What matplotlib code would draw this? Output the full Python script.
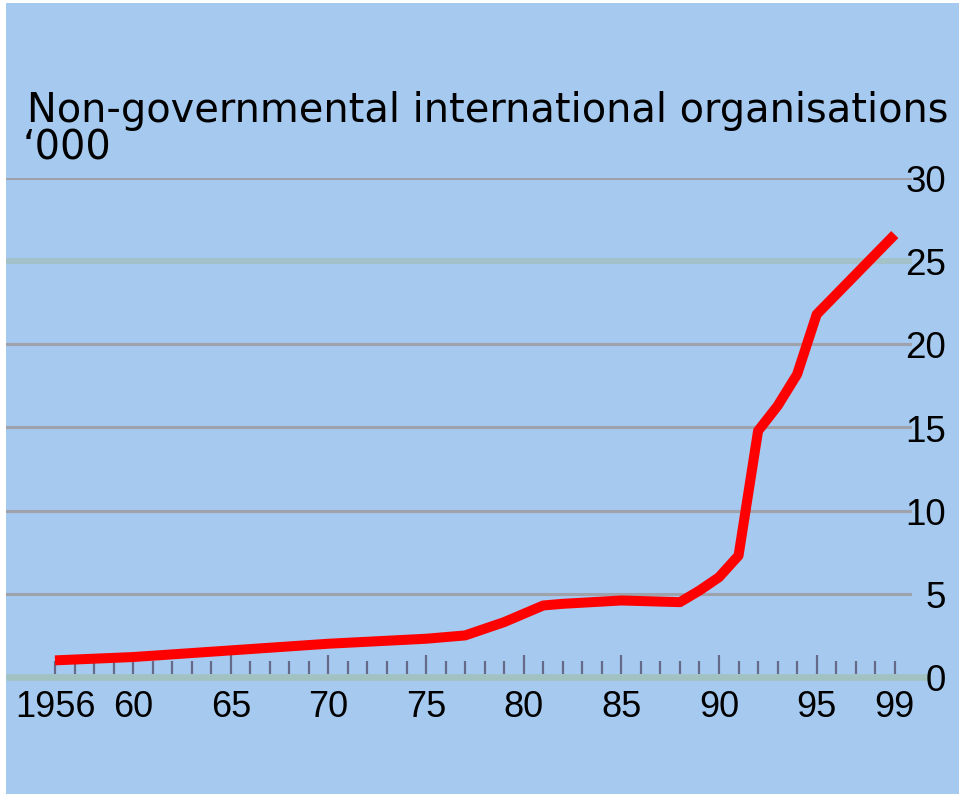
import matplotlib
matplotlib.use("Agg")
import matplotlib.pyplot as plt
from matplotlib.patches import Rectangle
from matplotlib.transforms import blended_transform_factory, ScaledTranslation

years = [1956, 1960, 1965, 1970, 1975, 1977, 1978, 1979, 1980, 1981, 1982, 1985,
         1988, 1989, 1990, 1991, 1992, 1993, 1994, 1995, 1996, 1997, 1998, 1999]
values = [1.0, 1.2, 1.6, 2.0, 2.3, 2.5, 2.9, 3.3, 3.8, 4.3, 4.4, 4.6,
          4.5, 5.2, 6.0, 7.3, 14.8, 16.3, 18.2, 21.8, 23.0, 24.2, 25.4, 26.6]
yticks = [0, 5, 10, 15, 20, 25, 30]
xtick_years = [1956, 1960, 1965, 1970, 1975, 1980, 1985, 1990, 1995, 1999]
xtick_labels = ["1956", "60", "65", "70", "75", "80", "85", "90", "95", "99"]
title = "Non-governmental international organisations"
unit = "\u2018000"

BG = "#a6c9ef"
W, H = 959, 794
fig = plt.figure(figsize=(W / 100, H / 100), dpi=100, facecolor="white")
fig.patches.append(Rectangle((6 / W, 0), 1 - 6 / W, 1 - 3 / H, transform=fig.transFigure,
                             facecolor=BG, edgecolor="none", zorder=-10))

left, right = 6, 912
bottom_px, top_px = 677, 178
ax = fig.add_axes([left / W, 1 - bottom_px / H, (right - left) / W, (bottom_px - top_px) / H])
ax.set_zorder(1)
ax.set_facecolor("none")
ppy = 19.53
ax.set_xlim(1956 - (55 - left) / ppy, 1956 + (right - 55) / ppy)
ax.set_ylim(0, 30)
for s in ax.spines.values():
    s.set_visible(False)
ax.set_xticks([])
ax.set_yticks([])

# gridlines
for v in yticks[1:]:
    col = "#a2c2c8" if v == 25 else "#a0a2ab"
    lw = 4.2 if v == 25 else 2.2
    ax.axhline(v, color=col, lw=lw, zorder=1)

# baseline
trans_fx = blended_transform_factory(fig.transFigure, ax.transData)
ax.plot([6 / W, 930 / W], [0, 0], transform=trans_fx, color="#a2c2c2", lw=4.8,
        solid_capstyle="butt", clip_on=False, zorder=2)

# year ticks
for yr in range(1956, 2000):
    tall = yr % 5 == 0 and yr != 1960
    h = 1.1 if tall else 0.75
    ax.plot([yr, yr], [0.2, 0.2 + h], color="#666a88", lw=1.6, solid_capstyle="butt",
            zorder=2, clip_on=False)

# data line
ax.plot(years, values, color="#ff0000", lw=7.2, solid_capstyle="butt",
        solid_joinstyle="round", zorder=5, clip_on=False)

num_fnt = ["Liberation Sans", "DejaVu Sans"]
ttl_fnt = ["DejaVu Sans"]
# y labels on the right (baseline ~14px below the gridline)
ylab_trans = trans_fx + ScaledTranslation(0, -14 / 100, fig.dpi_scale_trans)
for v in yticks:
    ax.text(946 / W, v, str(v), transform=ylab_trans, ha="right", va="baseline",
            fontsize=26.5, family=num_fnt, color="black", clip_on=False)

# x labels
trans_x = blended_transform_factory(ax.transData, fig.transFigure)
for yr, lab in zip(xtick_years, xtick_labels):
    ax.text(yr, 1 - 717 / H, lab, transform=trans_x, ha="center", va="baseline",
            fontsize=26, family=num_fnt, color="black", clip_on=False)

fig.text(27 / W, 1 - 122 / H, title, ha="left", va="baseline", fontsize=28.7,
         family=ttl_fnt, color="black")
fig.text(23 / W, 1 - 160 / H, unit, ha="left", va="baseline", fontsize=28.7,
         family=ttl_fnt, color="black")

fig.savefig("out.png", dpi=100, facecolor="white")
